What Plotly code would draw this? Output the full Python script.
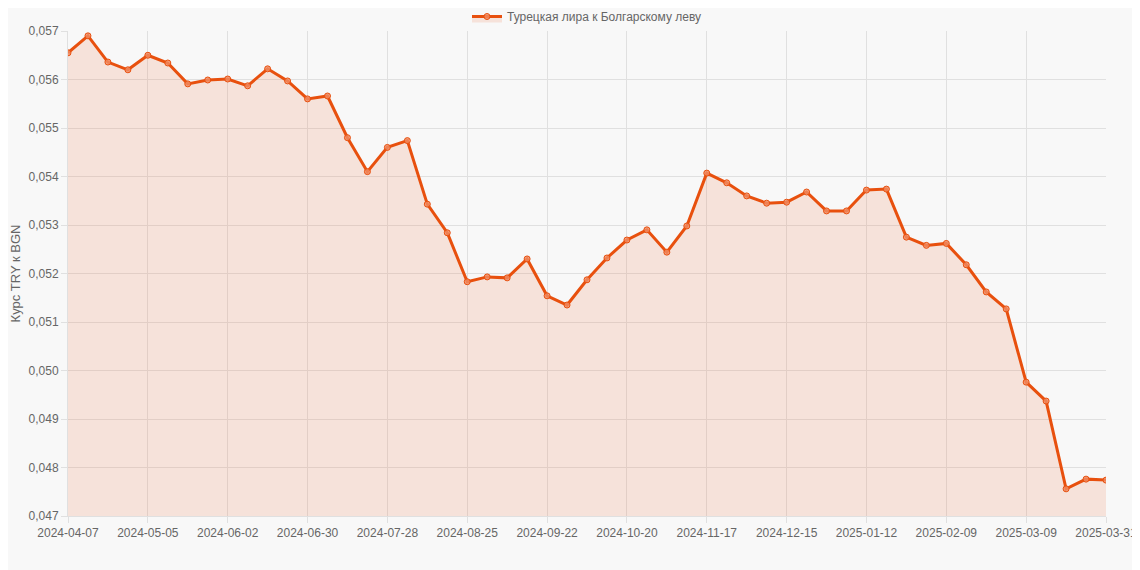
import plotly.graph_objects as go
import pandas as pd

dates = [d.strftime("%Y-%m-%d") for d in pd.date_range("2024-04-07", periods=52, freq="7D")] + ["2025-03-31"]
values = [0.05655, 0.0569, 0.05636, 0.0562, 0.0565, 0.05634, 0.05591, 0.05599, 0.05601, 0.05587,
          0.05622, 0.05597, 0.0556, 0.05566, 0.0548, 0.0541, 0.0546, 0.05474, 0.05343, 0.05284,
          0.05183, 0.05193, 0.05191, 0.0523, 0.05154, 0.05135, 0.05187, 0.05232, 0.05269, 0.0529,
          0.05244, 0.05298, 0.05407, 0.05387, 0.0536, 0.05345, 0.05347, 0.05368, 0.05329, 0.05329,
          0.05372, 0.05374, 0.05275, 0.05258, 0.05262, 0.05218, 0.05162, 0.05127, 0.04976, 0.04937,
          0.04756, 0.04776, 0.04774]
tick_labels = dates[::4] + ["2025-03-31"]
series_name = "Турецкая лира к Болгарскому леву"

fig = go.Figure(go.Scatter(
    x=dates, y=values, name=series_name, mode="lines+markers",
    line=dict(color="#e8500e", width=3),
    marker=dict(size=6, color="rgba(240,140,100,0.8)", line=dict(color="#e8500e", width=1)),
    fill="tozeroy", fillcolor="rgba(240,120,70,0.17)",
))
fig.update_layout(
    width=1140, height=570, margin=dict(l=60, r=42, t=23, b=62, autoexpand=False),
    paper_bgcolor="#f8f8f8", plot_bgcolor="#f8f8f8",
    separators=", ",
    font=dict(family="Liberation Sans, Arial", size=12, color="#666"),
    showlegend=True,
    legend=dict(orientation="h", x=0.5, xanchor="center", y=1.0, yanchor="bottom",
                font=dict(size=12, color="#666")),
    xaxis=dict(type="category", range=[0, 52], tickmode="array", tickvals=tick_labels,
               ticktext=tick_labels, showgrid=True, gridcolor="#e0e0e0", tickangle=0, automargin=False,
               ticks="outside", ticklen=6, tickcolor="#e0e0e0", linecolor="#e0e0e0"),
    yaxis=dict(range=[0.047, 0.057], dtick=0.001, tickformat=".3f", showgrid=True, automargin=False,
               gridcolor="#e0e0e0", title=dict(text="Курс TRY к BGN", font=dict(size=13), standoff=8),
               ticks="outside", ticklen=6, tickcolor="#e0e0e0", linecolor="#e0e0e0", zeroline=False),
)
fig.write_html("out.html")
